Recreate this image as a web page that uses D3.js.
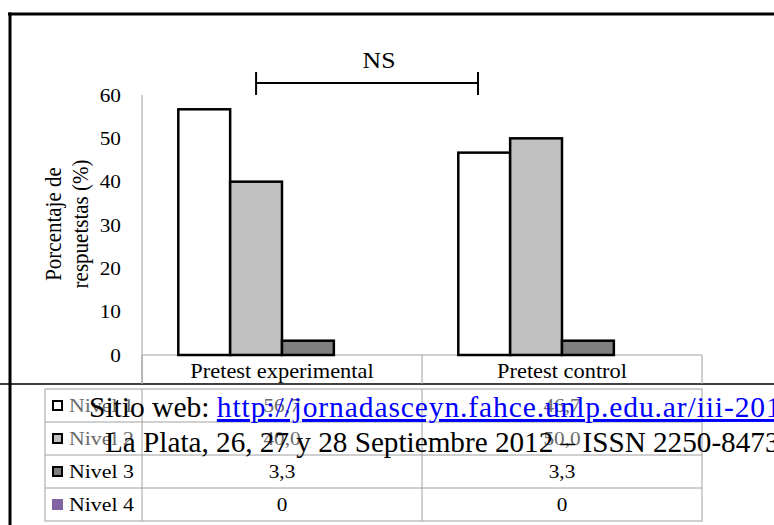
<!DOCTYPE html>
<html>
<head>
<meta charset="utf-8">
<script src="https://cdn.jsdelivr.net/npm/d3@7"></script>
<style>
  html, body { margin: 0; padding: 0; background: #fff; }
  svg { display: block; }
  svg text { font-family: "Liberation Serif", "Times New Roman", serif; }
</style>
</head>
<body>
<svg id="chart" width="774" height="525"></svg>
<script>
// ---- data ----
const categories = ["Pretest experimental", "Pretest control"];
const series = ["Nivel 1", "Nivel 2", "Nivel 3", "Nivel 4"];
const nivel1 = [56.7, 46.7];
const nivel2 = [40.0, 50.0];
const nivel3 = [3.3, 3.3];
const nivel4 = [0, 0];
const tableLabels = [["56,7", "46,7"], ["40,0", "50,0"], ["3,3", "3,3"], ["0", "0"]];
const yTicks = [0, 10, 20, 30, 40, 50, 60];
const yTitle = ["Porcentaje de", "respuetstas (%)"];
const annotation = "NS";
const headerLine1 = "Sitio web: ";
const headerLink = "http://jornadasceyn.fahce.unlp.edu.ar/iii-2012";
const headerLine2 = "La Plata, 26, 27 y 28 Septiembre 2012 \u2013 ISSN 2250-8473";

const values = [nivel1, nivel2, nivel3, nivel4];
const colors = ["#ffffff", "#c0c0c0", "#808080", "#8064a2"];
const strokes = ["#000", "#000", "#000", "none"];
const faded = [true, true, false, false];
const FONT = "Liberation Serif";

const svg = d3.select("#chart");
const SX = 1.12; // horizontal stretch of chart text

const x0 = d3.scaleBand().domain(categories).range([142, 702]).paddingInner(0).paddingOuter(0);
const x1 = d3.scaleBand().domain(series).range([0, x0.bandwidth()]).paddingInner(0).paddingOuter(0.7);
const y = d3.scaleLinear().domain([0, 60]).range([355, 95]);

function stext(g, x, yy, str, size, anchor, fill) {
  return g.append("text")
    .attr("transform", `translate(${x},${yy}) scale(${SX},1)`)
    .attr("text-anchor", anchor)
    .attr("font-family", FONT)
    .attr("font-size", size)
    .attr("fill", fill || "#000")
    .text(str);
}

// ---- frame ----
svg.append("line").attr("x1", 8).attr("x2", 774).attr("y1", 14).attr("y2", 14)
  .attr("stroke", "#000").attr("stroke-width", 3);
svg.append("line").attr("x1", 10).attr("x2", 10).attr("y1", 12.5).attr("y2", 525)
  .attr("stroke", "#000").attr("stroke-width", 3);
svg.append("line").attr("x1", 0).attr("x2", 774).attr("y1", 384).attr("y2", 384)
  .attr("stroke", "#000").attr("stroke-width", 1.5);

// ---- y axis ----
const gy = svg.append("g");
gy.append("line").attr("x1", 142).attr("x2", 142).attr("y1", y(60)).attr("y2", 384)
  .attr("stroke", "#a0a0a0").attr("stroke-width", 1);
yTicks.forEach(t => {
  stext(gy, 121, y(t) + 6.5, String(t), 19, "end");
});

// y title
const gt = svg.append("g");
yTitle.forEach((s, i) => {
  gt.append("text")
    .attr("transform", `translate(${61 + i * 27},224) scale(${SX},1) rotate(-90)`)
    .attr("text-anchor", "middle")
    .attr("font-family", FONT)
    .attr("font-size", 21)
    .text(s);
});

// ---- category axis row ----
const gx = svg.append("g");
gx.append("line").attr("x1", 142).attr("x2", 702).attr("y1", y(0)).attr("y2", y(0))
  .attr("stroke", "#a0a0a0");
[0, 1, 2].forEach(i => {
  const xv = i < 2 ? x0(categories[i]) : x0(categories[1]) + x0.bandwidth();
  gx.append("line").attr("x1", xv).attr("x2", xv).attr("y1", y(0)).attr("y2", 384)
    .attr("stroke", "#a0a0a0");
});
categories.forEach(c => {
  stext(gx, x0(c) + x0.bandwidth() / 2, 378, c, 20, "middle");
});

// ---- bars ----
const gb = svg.append("g");
series.forEach((s, si) => {
  gb.selectAll(null).data(categories).enter().append("rect")
    .attr("x", c => x0(c) + x1(s))
    .attr("y", (c, ci) => y(values[si][ci]))
    .attr("width", x1.bandwidth())
    .attr("height", (c, ci) => y(0) - y(values[si][ci]))
    .attr("fill", colors[si])
    .attr("stroke", values[si].every(v => v === 0) ? "none" : strokes[si])
    .attr("stroke-width", 2.5);
});

// ---- NS bracket ----
const ga = svg.append("g");
const bx1 = x0(categories[0]) + x1(series[1]) + x1.bandwidth() / 2;
const bx2 = 478;
const by = 83;
ga.append("line").attr("x1", bx1).attr("x2", bx2).attr("y1", by).attr("y2", by).attr("stroke", "#000").attr("stroke-width", 2);
ga.append("line").attr("x1", bx1).attr("x2", bx1).attr("y1", 72).attr("y2", 95).attr("stroke", "#000").attr("stroke-width", 2);
ga.append("line").attr("x1", bx2).attr("x2", bx2).attr("y1", 72).attr("y2", 95).attr("stroke", "#000").attr("stroke-width", 2);
stext(ga, (bx1 + bx2) / 2 + 12, 68, annotation, 23, "middle");

// ---- data table ----
const gtab = svg.append("g");
const rowY = d3.scaleBand().domain(series).range([389, 521]);
const tcol = "#a0a0a0";
gtab.append("rect").attr("x", 45).attr("y", 389).attr("width", 702 - 45).attr("height", 521 - 389)
  .attr("fill", "none").attr("stroke", tcol);
series.forEach((s, i) => {
  if (i > 0) gtab.append("line").attr("x1", 45).attr("x2", 702).attr("y1", rowY(s)).attr("y2", rowY(s)).attr("stroke", tcol);
});
categories.forEach(c => {
  const xv = x0(c);
  gtab.append("line").attr("x1", xv).attr("x2", xv).attr("y1", 389).attr("y2", 521).attr("stroke", tcol);
});
series.forEach((s, i) => {
  const cy = rowY(s) + rowY.bandwidth() / 2;
  const txtCol = faded[i] ? "#6a6a6a" : "#000";
  const noStroke = strokes[i] === "none";
  gtab.append("rect")
    .attr("x", noStroke ? 52 : 53).attr("y", cy - (noStroke ? 5.5 : 4.5))
    .attr("width", noStroke ? 11 : 9).attr("height", noStroke ? 11 : 9)
    .attr("fill", colors[i]).attr("stroke", strokes[i]).attr("stroke-width", 2);
  stext(gtab, 69, cy + 6.5, s, 19.5, "start", txtCol);
  categories.forEach((c, ci) => {
    stext(gtab, x0(c) + x0.bandwidth() / 2, cy + 6.5, tableLabels[i][ci], 19, "middle", txtCol);
  });
});

// ---- header overlay ----
const gh = svg.append("g");
const t1 = gh.append("text").attr("x", 89).attr("y", 417).attr("font-family", FONT).attr("font-size", 29.5).attr("fill", "#000");
t1.append("tspan").text(headerLine1);
t1.append("tspan").attr("fill", "#0000ff").attr("letter-spacing", 0.9).style("text-decoration", "underline").text(headerLink);
gh.append("text").attr("x", 105).attr("y", 452).attr("font-family", FONT).attr("font-size", 29.2).attr("fill", "#000").text(headerLine2);
</script>
</body>
</html>
